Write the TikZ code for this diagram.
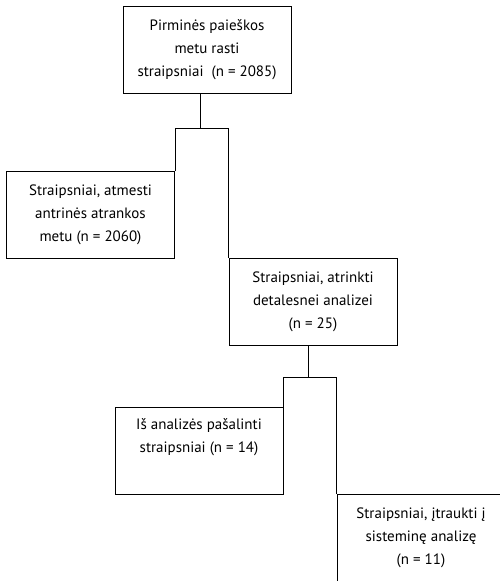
\documentclass[tikz,border=0pt]{standalone}
\usepackage{fontspec}
\setmainfont{PT Sans}
\begin{document}
\begin{tikzpicture}[x=1pt, y=-1pt, line width=1pt,
  box/.style={draw, align=center, minimum width=168pt, minimum height=87pt,
    inner sep=0pt, font=\fontsize{15}{23}\selectfont}]
\useasboundingbox (0,0) rectangle (500,581);
\node[box] (a) at (207,49.5) {Pirminės paieškos\\metu rasti\\straipsniai~ (n = 2085)};
\node[box] (b) at (90.5,214.5) {Straipsniai, atmesti\\antrinės atrankos\\metu (n = 2060)};
\node[box] (c) at (313,302) {Straipsniai, atrinkti\\detalesnei analizei\\(n = 25)};
\node[box] (d) at (199,450.5) {Iš analizės pašalinti\\straipsniai (n = 14)\\\strut};
\node[box] (e) at (421,537.5) {Straipsniai, įtraukti į\\sisteminę analizę\\(n = 11)};
% first split
\coordinate (s1) at (200,128);
\draw (a.south -| s1) -- (s1);
\draw (b.north east) |- (s1 -| c.north west) -- (c.north west);
% second split
\coordinate (s2) at (308,377);
\draw (c.south -| s2) -- (s2);
\draw (d.north east) |- (s2 -| e.north west) -- (e.north west);
\end{tikzpicture}
\end{document}
